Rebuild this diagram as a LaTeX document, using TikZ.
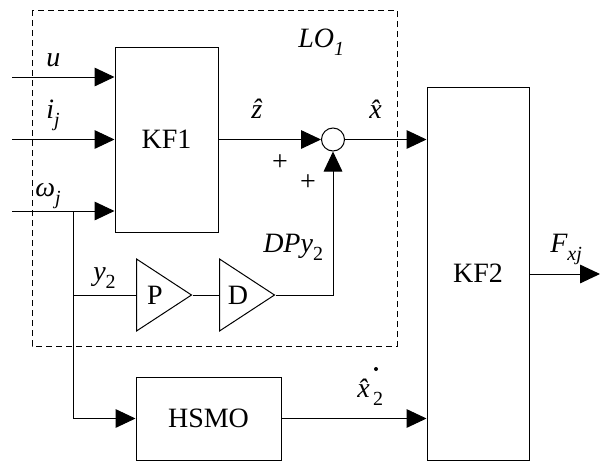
\documentclass[tikz,border=0pt]{standalone}
\usepackage{fontspec}
\setmainfont{Liberation Serif}
\usetikzlibrary{arrows.meta,shapes.geometric}
\newcommand{\sbs}[1]{\raisebox{-0.3em}{\fontsize{15}{18}\selectfont #1}}
\begin{document}
\begin{tikzpicture}[x=0.75pt,y=-0.75pt,
  font=\fontsize{21}{25}\selectfont,
  ln/.style={line width=0.75pt},
  arr/.style={ln,-{Triangle[length=15pt,width=14pt]}},
  blk/.style={draw,ln,inner sep=0pt},
  tri/.style={draw,ln,isosceles triangle,isosceles triangle stretches,shape border rotate=0,
    inner sep=0pt,minimum height=41.25pt,minimum width=54pt,anchor=lower side},
  sumc/.style={draw,ln,circle,inner sep=0pt,minimum size=17.25pt},
  lbl/.style={inner sep=0pt,anchor=base west},
  ctr/.style={inner sep=0pt}]
\useasboundingbox (0,0) rectangle (600,461);
% dashed LO1 box
\draw[ln,dash pattern=on 4.5pt off 3pt] (32,10) rectangle (397,346);
% blocks
\node[blk,minimum width=77.25pt,minimum height=138.75pt] (KF1) at (166.5,139.5) {KF1};
\node[blk,minimum width=76.5pt,minimum height=279.75pt] (KF2) at (478,273.5) {KF2};
\node[blk,minimum width=108.75pt,minimum height=62.25pt] (HSMO) at (208.5,418.5) {HSMO};
\node[tri] (P) at (136,295) {};
\node[tri] (D) at (219,295) {};
\node[ctr] (Pt) at (155,295) {P};
\node[ctr] (Dt) at (238,295) {D};
\node[sumc] (S) at (333,139.5) {};
% input coordinates
\coordinate (uin) at (12,77);
\coordinate (iin) at (12,139.5);
\coordinate (win) at (12,211);
\coordinate (br) at (73,211);
\coordinate (br2) at (73,295);
\coordinate (out) at (600,274);
% connectors
\draw[arr] (uin) -- (uin -| KF1.west);
\draw[arr] (iin) -- (iin -| KF1.west);
\draw[arr] (win) -- (win -| KF1.west);
\draw[arr] (br) |- (HSMO.west);
\draw[ln] (br2) -- (P.lower side);
\draw[ln] (P.apex) -- (D.lower side);
\draw[arr] (D.apex) -| (S.south);
\draw[arr] (KF1.east |- S) -- (S.west);
\draw[arr] (S.east) -- (S -| KF2.west);
\draw[arr] (HSMO.east) -- (HSMO -| KF2.west);
\draw[arr] (KF2.east |- out) -- (out);
% labels
\node[lbl] (lu) at (46,66) {\itshape u};
\node[lbl] (li) at (46,118) {\itshape i\sbs{j}};
\node[lbl] (lw) at (35,196) {\itshape ω\sbs{j}};
\node[lbl] (lz) at (251,118) {\itshape \^{z}};
\node[lbl] (lx) at (369,118) {\itshape \^{x}};
\node[lbl] (lLO) at (298,47) {\itshape LO\sbs{1}};
\node[ctr] (p1) at (280,163) {+};
\node[ctr] (p2) at (308,183) {+};
\node[lbl] (lDP) at (263,252) {\itshape DPy\sbs{\upshape 2}};
\node[lbl] (ly) at (93,280) {\itshape y\sbs{\upshape 2}};
\node[lbl] (lF) at (550,252) {\itshape F\sbs{xj}};
\node[lbl] (lx2) at (357,397) {\itshape \^{x}\kern2.5pt\sbs{\upshape 2}};
\fill (376,369) circle (1.5pt);
\end{tikzpicture}
\end{document}
